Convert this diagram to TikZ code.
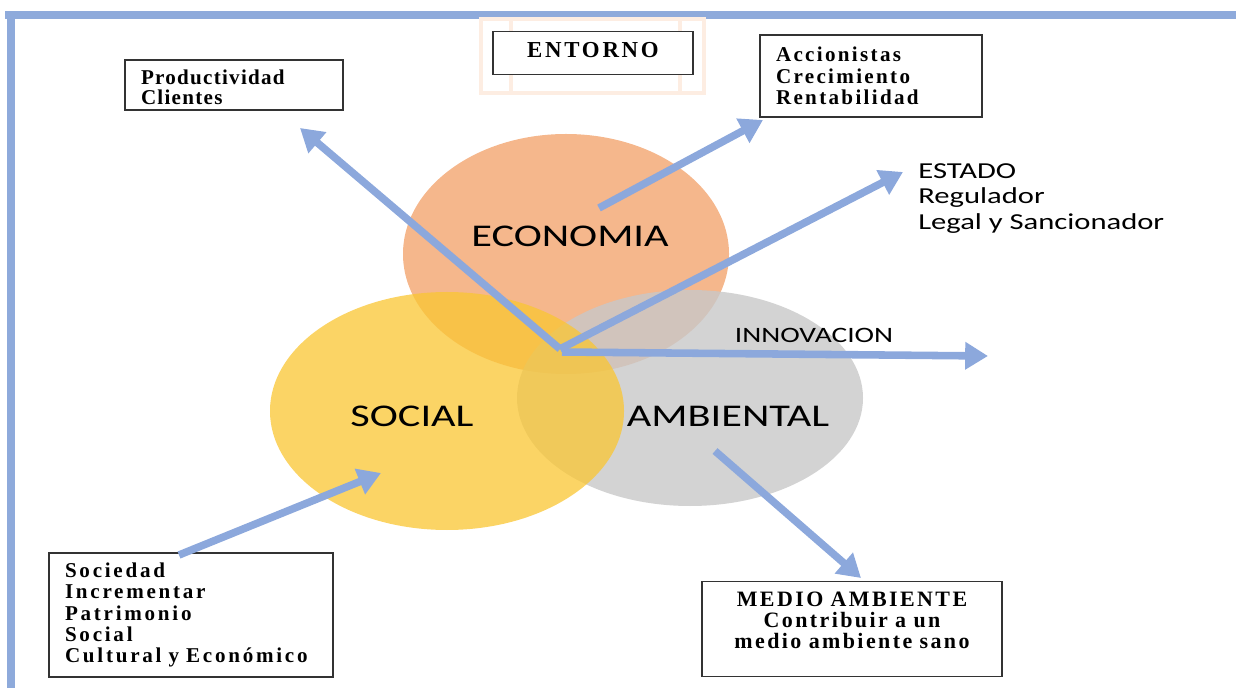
\documentclass[tikz,border=0pt]{standalone}
\usepackage{fontspec}
\setmainfont{Liberation Serif}
\newfontfamily\calibri{Carlito}[FakeStretch=1.34]
\usetikzlibrary{arrows.meta}

\definecolor{frameblue}{RGB}{142,170,219}
\definecolor{arrowblue}{RGB}{140,168,220}
\definecolor{ecoorange}{RGB}{243,170,120}
\definecolor{socyellow}{RGB}{250,198,50}
\definecolor{ambgray}{RGB}{200,200,200}
\definecolor{paleorange}{RGB}{253,237,226}

\begin{document}
\begin{tikzpicture}[x=0.02cm,y=-0.02cm,
		every node/.style={inner sep=0pt},
		box/.style={draw=black!80,line width=0.8pt,fill=white,inner xsep=0.32cm,
			align=left,font=\bfseries\fontsize{12}{11.6}\selectfont},
		sphere/.style={font=\calibri\fontsize{18}{18}\selectfont}]
	\useasboundingbox (0,0) rectangle (1236,688);

	% marco
	\fill[frameblue] (5,11) rectangle (1236,19);
	\fill[frameblue] (7,11) rectangle (15,688);

	% tres esferas
	\fill[ecoorange,fill opacity=0.85] (566,254) ellipse [x radius=163,y radius=120];
	\fill[ambgray,fill opacity=0.8] (690,398) ellipse [x radius=173,y radius=108];
	\fill[socyellow,fill opacity=0.75] (447,411) ellipse [x radius=177,y radius=119];

	\node[sphere] (eco) at (570,236) {ECONOMIA};
	\node[sphere] (soc) at (412,416) {SOCIAL};
	\node[sphere] (amb) at (728,416) {AMBIENTAL};

	% cuadros
	\draw[paleorange,line width=2pt] (481,19) rectangle (704,93);
	\draw[paleorange,line width=2pt] (511,19) -- (511,93) (680,19) -- (680,93);
	\node[box,align=center,text width=3.36cm,minimum height=0.86cm,
		font=\bfseries\fontsize{13}{13}\selectfont\addfontfeature{LetterSpace=12}] (entorno) at (593,53)
		{ENTORNO\rule[-3pt]{0pt}{0pt}};
	\node[box,text width=3.72cm,minimum height=1.0cm,
		font=\bfseries\fontsize{12}{11.6}\selectfont\addfontfeature{LetterSpace=6}] (prod) at (234,85)
		{\rule{0pt}{11pt}Productividad\\Clientes};
	\node[box,text width=3.8cm,minimum height=1.64cm,
		font=\bfseries\fontsize{12}{12.2}\selectfont\addfontfeature{LetterSpace=11}] (accion) at (871,76)
		{Accionistas\\Crecimiento\\Rentabilidad};
	\node[box,text width=5.04cm,minimum height=2.48cm,
		font=\bfseries\fontsize{12}{12}\selectfont\addfontfeature{LetterSpace=13}] (socied) at (191,615)
		{Sociedad\\Incrementar\\Patrimonio\\Social\\Cultural y Económico};
	\node[box,align=center,text width=5.36cm,minimum height=1.9cm,
		font=\bfseries\fontsize{12.5}{12}\selectfont\addfontfeature{LetterSpace=11}] (medio) at (852,629)
		{MEDIO AMBIENTE\\Contribuir a un\\medio ambiente sano\rule[-10pt]{0pt}{0pt}};

	\node[anchor=north west,align=left,
		font=\calibri\fontsize{13}{14.7}\selectfont] (estado) at (918,163)
		{ESTADO\\Regulador\\Legal y Sancionador};
	\node[font=\calibri\fontsize{12.5}{12.5}\selectfont] (innov) at (814,335) {INNOVACION};

	% flechas
	\coordinate (hub) at (560,349);
	\coordinate (tipprod) at (300,128);
	\coordinate (ecoin) at (599,208);
	\coordinate (tipaccion) at (763,120);
	\coordinate (tipestado) at (903,172);
	\coordinate (tipinnov) at (988,356);
	\coordinate (startinnov) at (562,352);
	\coordinate (socfrom) at (179,555);
	\coordinate (tipsoc) at (381,473);
	\coordinate (ambin) at (715,451);
	\coordinate (tipmedio) at (861,578);

	\begin{scope}[every edge/.style={draw,arrowblue,line width=4.3pt,
			-{Triangle[length=13pt,width=15pt]}}]
		\path (hub) edge (tipprod);
		\path (ecoin) edge (tipaccion);
		\path (hub) edge (tipestado);
		\path (startinnov) edge (tipinnov);
		\path (socfrom) edge (tipsoc);
		\path (ambin) edge (tipmedio);
	\end{scope}
\end{tikzpicture}
\end{document}
